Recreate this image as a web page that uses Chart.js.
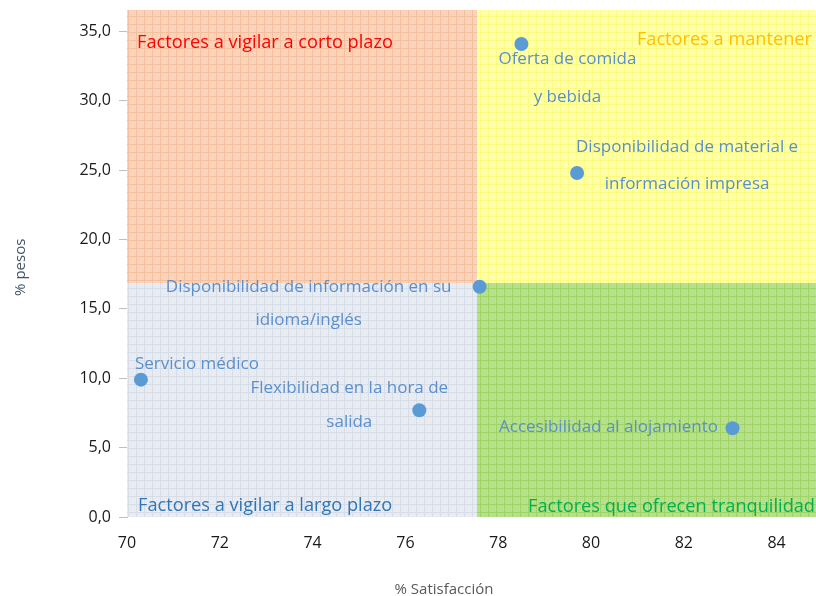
<!DOCTYPE html>
<html lang="es">
<head>
<meta charset="utf-8">
<title>Satisfacción vs pesos</title>
<script src="https://cdn.jsdelivr.net/npm/chart.js@4/dist/chart.umd.min.js"></script>
<style>
  html, body { margin: 0; padding: 0; background: #fff; overflow: hidden; }
  #wrap { width: 830px; height: 596px; }
</style>
</head>
<body>
<div id="wrap"><canvas id="chart-matriz" width="830" height="596"></canvas></div>
<script>
// Factores evaluados
const factores = [
  ['Oferta de comida', 'y bebida'],
  ['Disponibilidad de material e', 'información impresa'],
  ['Disponibilidad de información en su', 'idioma/inglés'],
  ['Servicio médico'],
  ['Flexibilidad en la hora de', 'salida'],
  ['Accesibilidad al alojamiento'],
]
const satisfaccion = [78.5, 79.7, 77.6, 70.3, 76.3, 83.05]
const pesos = [34.1, 24.8, 16.6, 9.9, 7.7, 6.4]

const ticksPesos = [0, 5, 10, 15, 20, 25, 30, 35]
const ticksSatisfaccion = [70, 72, 74, 76, 78, 80, 82, 84]

// Cortes de los cuadrantes
const corteSatisfaccion = 77.55
const cortePesos = 16.85

const cuadrantes = {
  cortoPlazo: 'Factores a vigilar a corto plazo',
  mantener: 'Factores a mantener',
  largoPlazo: 'Factores a vigilar a largo plazo',
  tranquilidad: 'Factores que ofrecen tranquilidad',
}

// Posición de cada etiqueta respecto a su punto (centro del texto, px)
const etiquetaOffsets = [
  { dx: 46, dy: [15, 53] },
  { dx: 110, dy: [-26, 11] },
  { dx: -171, dy: [0, 33] },
  { dx: 56, dy: [-16] },
  { dx: -70, dy: [-22, 12] },
  { dx: -124, dy: [-1] },
]

const FONT = '"Open Sans", Lato, sans-serif'

function makePattern(ctx, base, line) {
  const c = document.createElement('canvas')
  c.width = 8
  c.height = 8
  const g = c.getContext('2d')
  g.fillStyle = base
  g.fillRect(0, 0, 8, 8)
  g.fillStyle = line
  g.fillRect(0, 0, 8, 1)
  g.fillRect(0, 0, 1, 8)
  g.globalAlpha = 0.45
  for (let i = 2; i < 8; i += 2) {
    for (let j = 2; j < 8; j += 2) {
      if ((i + j) % 4 === 0) g.fillRect(i, j, 1, 1)
    }
  }
  return ctx.createPattern(c, 'repeat')
}

const quadrantPlugin = {
  id: 'quadrants',
  beforeDatasetsDraw(chart) {
    const { ctx, scales } = chart
    const x = scales.x
    const y = scales.y
    const left = x.getPixelForValue(70)
    const right = x.getPixelForValue(85)
    const mid = Math.round(x.getPixelForValue(corteSatisfaccion))
    const top = y.getPixelForValue(36.55)
    const split = Math.round(y.getPixelForValue(cortePesos))
    const bottom = y.getPixelForValue(0)

    ctx.save()
    ctx.fillStyle = makePattern(ctx, '#fad5be', '#f4bf9e')
    ctx.fillRect(left, top, mid - left, split - top)
    ctx.fillStyle = makePattern(ctx, '#ffffb2', '#fbfb84')
    ctx.fillRect(mid, top, right - mid, split - top)
    ctx.fillStyle = makePattern(ctx, '#e9edf3', '#d6dde7')
    ctx.fillRect(left, split, mid - left, bottom - split)
    ctx.fillStyle = makePattern(ctx, '#b9e092', '#9fd366')
    ctx.fillRect(mid, split, right - mid, bottom - split)

    ctx.font = '18.2px ' + FONT
    ctx.textBaseline = 'middle'
    ctx.textAlign = 'left'
    ctx.fillStyle = '#ff0000'
    ctx.fillText(cuadrantes.cortoPlazo, left + 10, top + 33)
    ctx.fillStyle = '#2e75b6'
    ctx.fillText(cuadrantes.largoPlazo, left + 11, bottom - 11)
    ctx.textAlign = 'right'
    ctx.fillStyle = '#ffc000'
    ctx.fillText(cuadrantes.mantener, 812, top + 30)
    ctx.fillStyle = '#00b050'
    ctx.fillText(cuadrantes.tranquilidad, 815, bottom - 10)
    ctx.restore()
  },
  afterDatasetsDraw(chart) {
    const { ctx } = chart
    const meta = chart.getDatasetMeta(0)
    ctx.save()
    ctx.font = '17px ' + FONT
    ctx.fillStyle = '#5a8fcb'
    ctx.textAlign = 'center'
    ctx.textBaseline = 'middle'
    meta.data.forEach((pt, i) => {
      const off = etiquetaOffsets[i]
      factores[i].forEach((line, k) => {
        ctx.fillText(line, pt.x + off.dx, pt.y + off.dy[k])
      })
    })
    ctx.restore()
  },
  afterDraw(chart) {
    const { ctx } = chart
    ctx.save()
    ctx.font = '15px ' + FONT
    ctx.fillStyle = '#595959'
    ctx.textAlign = 'center'
    ctx.textBaseline = 'middle'
    ctx.fillText('% Satisfacción', chart.chartArea.left + 317, 590)
    ctx.restore()
  },
}

const ctx = document.getElementById('chart-matriz')

new Chart(ctx, {
  type: 'scatter',
  data: {
    datasets: [
      {
        label: '% pesos',
        data: satisfaccion.map((s, i) => ({ x: s, y: pesos[i] })),
        backgroundColor: '#5b9bd5',
        borderWidth: 0,
        pointRadius: 7,
      },
    ],
  },
  options: {
    responsive: false,
    devicePixelRatio: 1,
    animation: false,
    layout: { padding: { top: 17, right: 1, left: 0, bottom: 0 } },
    plugins: {
      legend: { display: false },
      tooltip: { enabled: false },
    },
    scales: {
      x: {
        type: 'linear',
        min: 70,
        max: 85,
        afterFit(scale) {
          scale.height = 79
        },
        afterBuildTicks(scale) {
          scale.ticks = ticksSatisfaccion.map((v) => ({ value: v }))
        },
        ticks: {
          padding: 17,
          color: '#1a1a1a',
          font: { family: FONT, size: 16 },
        },
        grid: { display: false, drawTicks: false },
        border: { display: false },
      },
      y: {
        type: 'linear',
        min: 0,
        max: 36,
        afterFit(scale) {
          scale.width = 127
        },
        afterBuildTicks(scale) {
          scale.ticks = ticksPesos.map((v) => ({ value: v }))
        },
        ticks: {
          padding: 8,
          color: '#1a1a1a',
          font: { family: FONT, size: 16 },
          callback: (v) => v.toFixed(1).replace('.', ','),
        },
        grid: { drawOnChartArea: false, drawTicks: true, tickLength: 8, color: '#bfbfbf' },
        border: { display: true, color: '#bfbfbf', width: 1 },
        title: {
          display: true,
          text: '% pesos',
          color: '#44546a',
          font: { family: FONT, size: 15 },
          padding: { top: 12, bottom: 0 },
        },
      },
    },
  },
  plugins: [quadrantPlugin],
})
</script>
</body>
</html>
